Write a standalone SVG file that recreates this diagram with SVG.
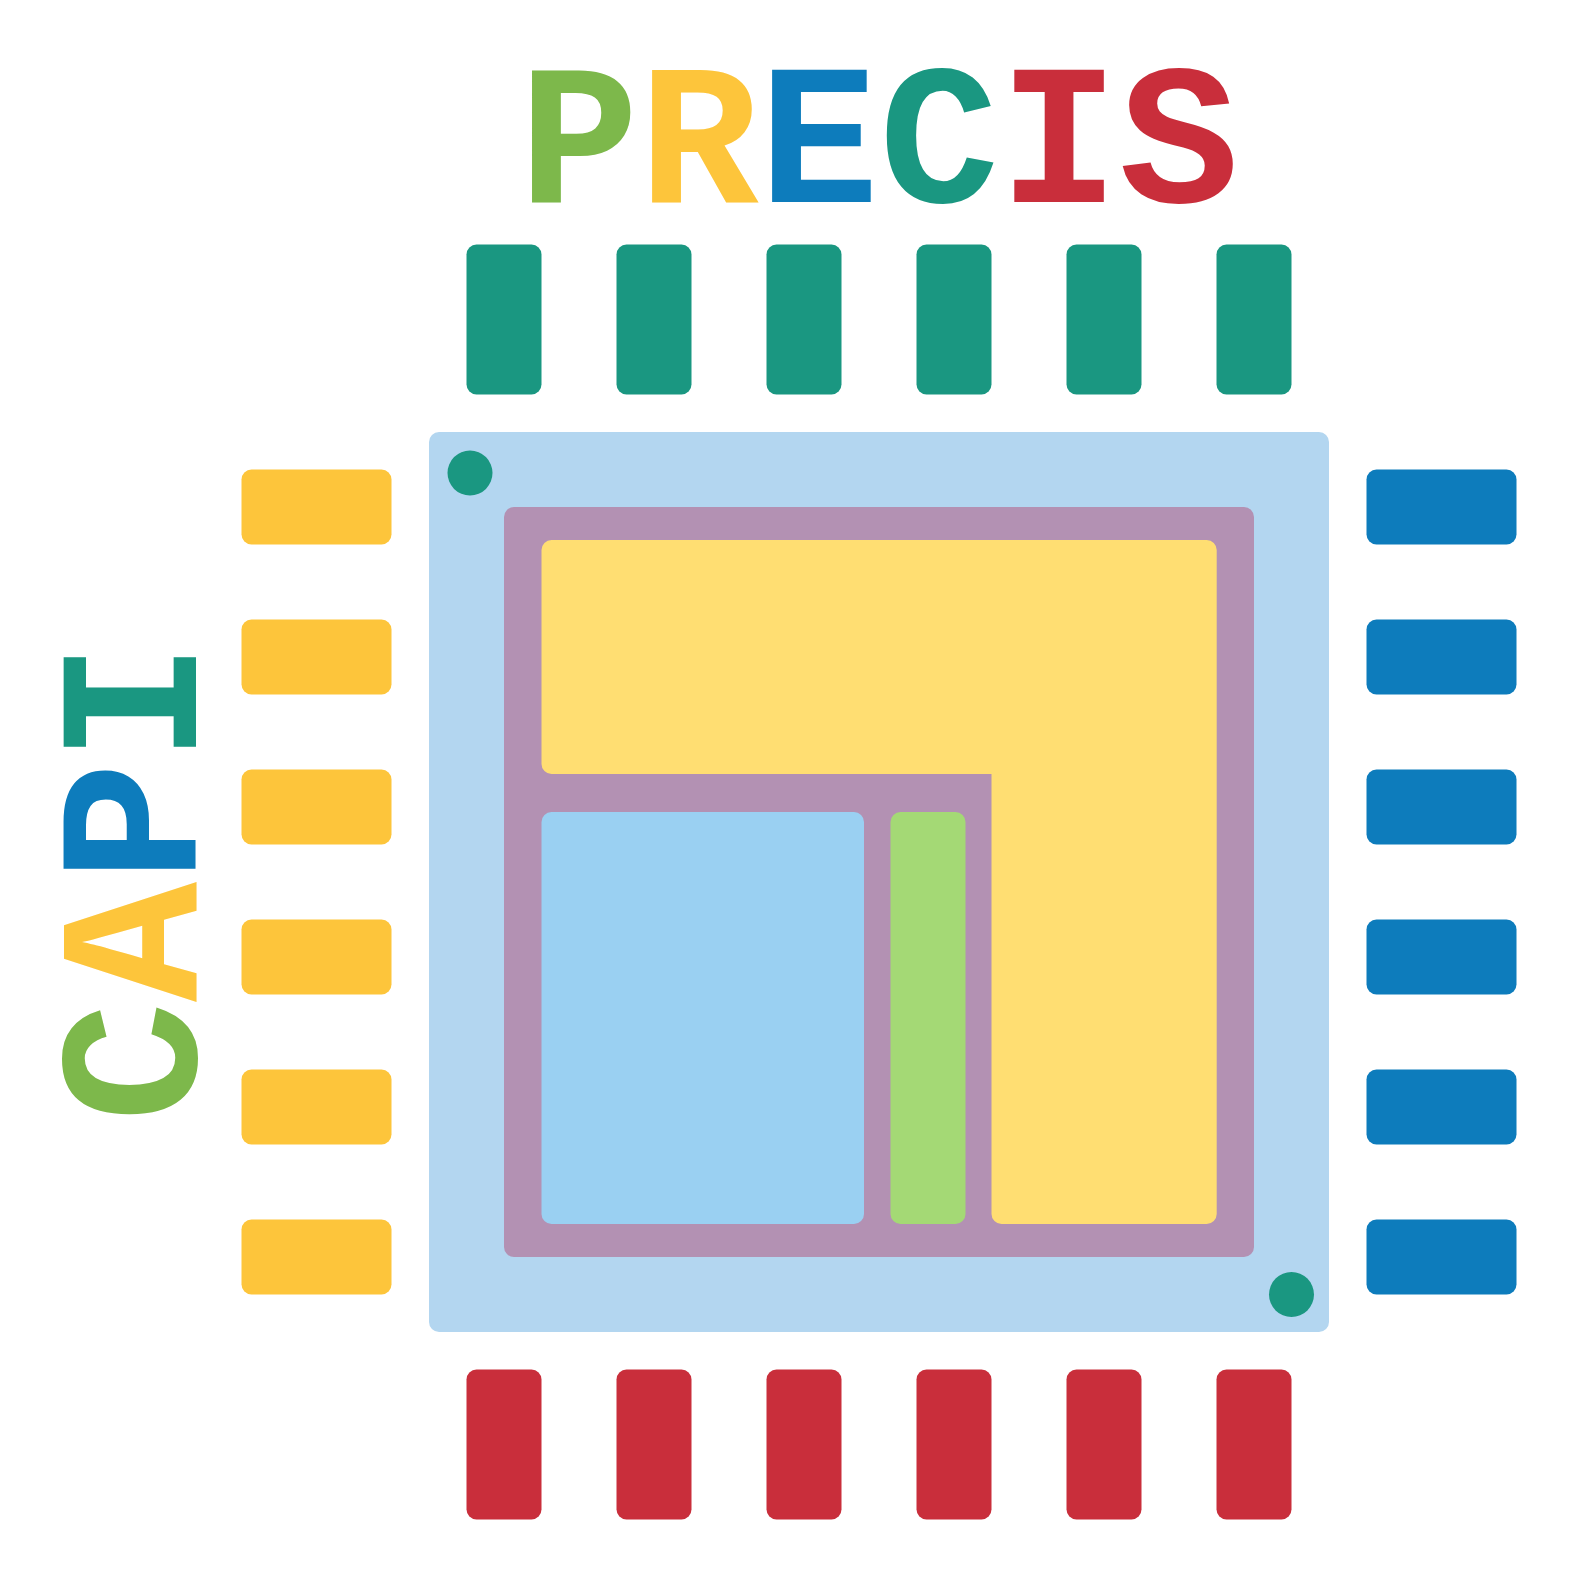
<svg xmlns="http://www.w3.org/2000/svg" width="1592" height="1579" viewBox="0 0 1592 1579">
<style>
.t{font-family:"Liberation Mono",monospace;font-weight:700;font-size:200px}
.g{fill:#1a9781}.y{fill:#fdc53b}.b{fill:#0d7cbc}.r{fill:#c92e3b}.l{fill:#7db84b}
</style>
<rect width="1592" height="1579" fill="#fff"/>
<g id="title" class="t">
<text x="518.8" y="202.5" class="l">P</text>
<text x="638.8" y="202" class="y">R</text>
<text x="758.8" y="202" class="b">E</text>
<text x="879" y="202" class="g">C</text>
<text x="999" y="202" class="r">I</text>
<text x="1119" y="202" class="r">S</text>
</g>
<g id="side-title" class="t">
<text transform="translate(196 1122) rotate(-90)" class="l">C</text>
<text transform="translate(196.4 1002) rotate(-90)" class="y">A</text>
<text transform="translate(196.4 882) rotate(-90)" class="b">P</text>
<text transform="translate(196.4 762) rotate(-90)" class="g">I</text>
</g>
<g id="pins-top" class="g">
<rect x="466.5" y="244.5" width="75" height="150" rx="10"/><rect x="616.5" y="244.5" width="75" height="150" rx="10"/><rect x="766.5" y="244.5" width="75" height="150" rx="10"/><rect x="916.5" y="244.5" width="75" height="150" rx="10"/><rect x="1066.5" y="244.5" width="75" height="150" rx="10"/><rect x="1216.5" y="244.5" width="75" height="150" rx="10"/>
</g>
<g id="pins-bottom" class="r">
<rect x="466.5" y="1369.5" width="75" height="150" rx="10"/><rect x="616.5" y="1369.5" width="75" height="150" rx="10"/><rect x="766.5" y="1369.5" width="75" height="150" rx="10"/><rect x="916.5" y="1369.5" width="75" height="150" rx="10"/><rect x="1066.5" y="1369.5" width="75" height="150" rx="10"/><rect x="1216.5" y="1369.5" width="75" height="150" rx="10"/>
</g>
<g id="pins-left" class="y">
<rect x="241.5" y="469.5" width="150" height="75" rx="10"/><rect x="241.5" y="619.5" width="150" height="75" rx="10"/><rect x="241.5" y="769.5" width="150" height="75" rx="10"/><rect x="241.5" y="919.5" width="150" height="75" rx="10"/><rect x="241.5" y="1069.5" width="150" height="75" rx="10"/><rect x="241.5" y="1219.5" width="150" height="75" rx="10"/>
</g>
<g id="pins-right" class="b">
<rect x="1366.5" y="469.5" width="150" height="75" rx="10"/><rect x="1366.5" y="619.5" width="150" height="75" rx="10"/><rect x="1366.5" y="769.5" width="150" height="75" rx="10"/><rect x="1366.5" y="919.5" width="150" height="75" rx="10"/><rect x="1366.5" y="1069.5" width="150" height="75" rx="10"/><rect x="1366.5" y="1219.5" width="150" height="75" rx="10"/>
</g>
<g id="chip">
<rect x="429" y="432" width="900" height="900" rx="10" fill="#b3d6f0"/>
<circle class="g" cx="470" cy="473" r="22.5"/>
<circle class="g" cx="1291.5" cy="1294.5" r="22.5"/>
<rect x="504" y="507" width="750" height="750" rx="10" fill="#b391b3"/>
<path d="M551.5 540H1206.7a10 10 0 0 1 10 10V1214a10 10 0 0 1 -10 10H1001.5a10 10 0 0 1 -10 -10V774H551.5a10 10 0 0 1 -10 -10V550a10 10 0 0 1 10 -10Z" fill="#ffde72"/>
<rect x="541.5" y="812" width="322.5" height="412" rx="10" fill="#9ad0f2"/>
<rect x="890.5" y="812" width="75" height="412" rx="10" fill="#a4d975"/>
</g>
</svg>
